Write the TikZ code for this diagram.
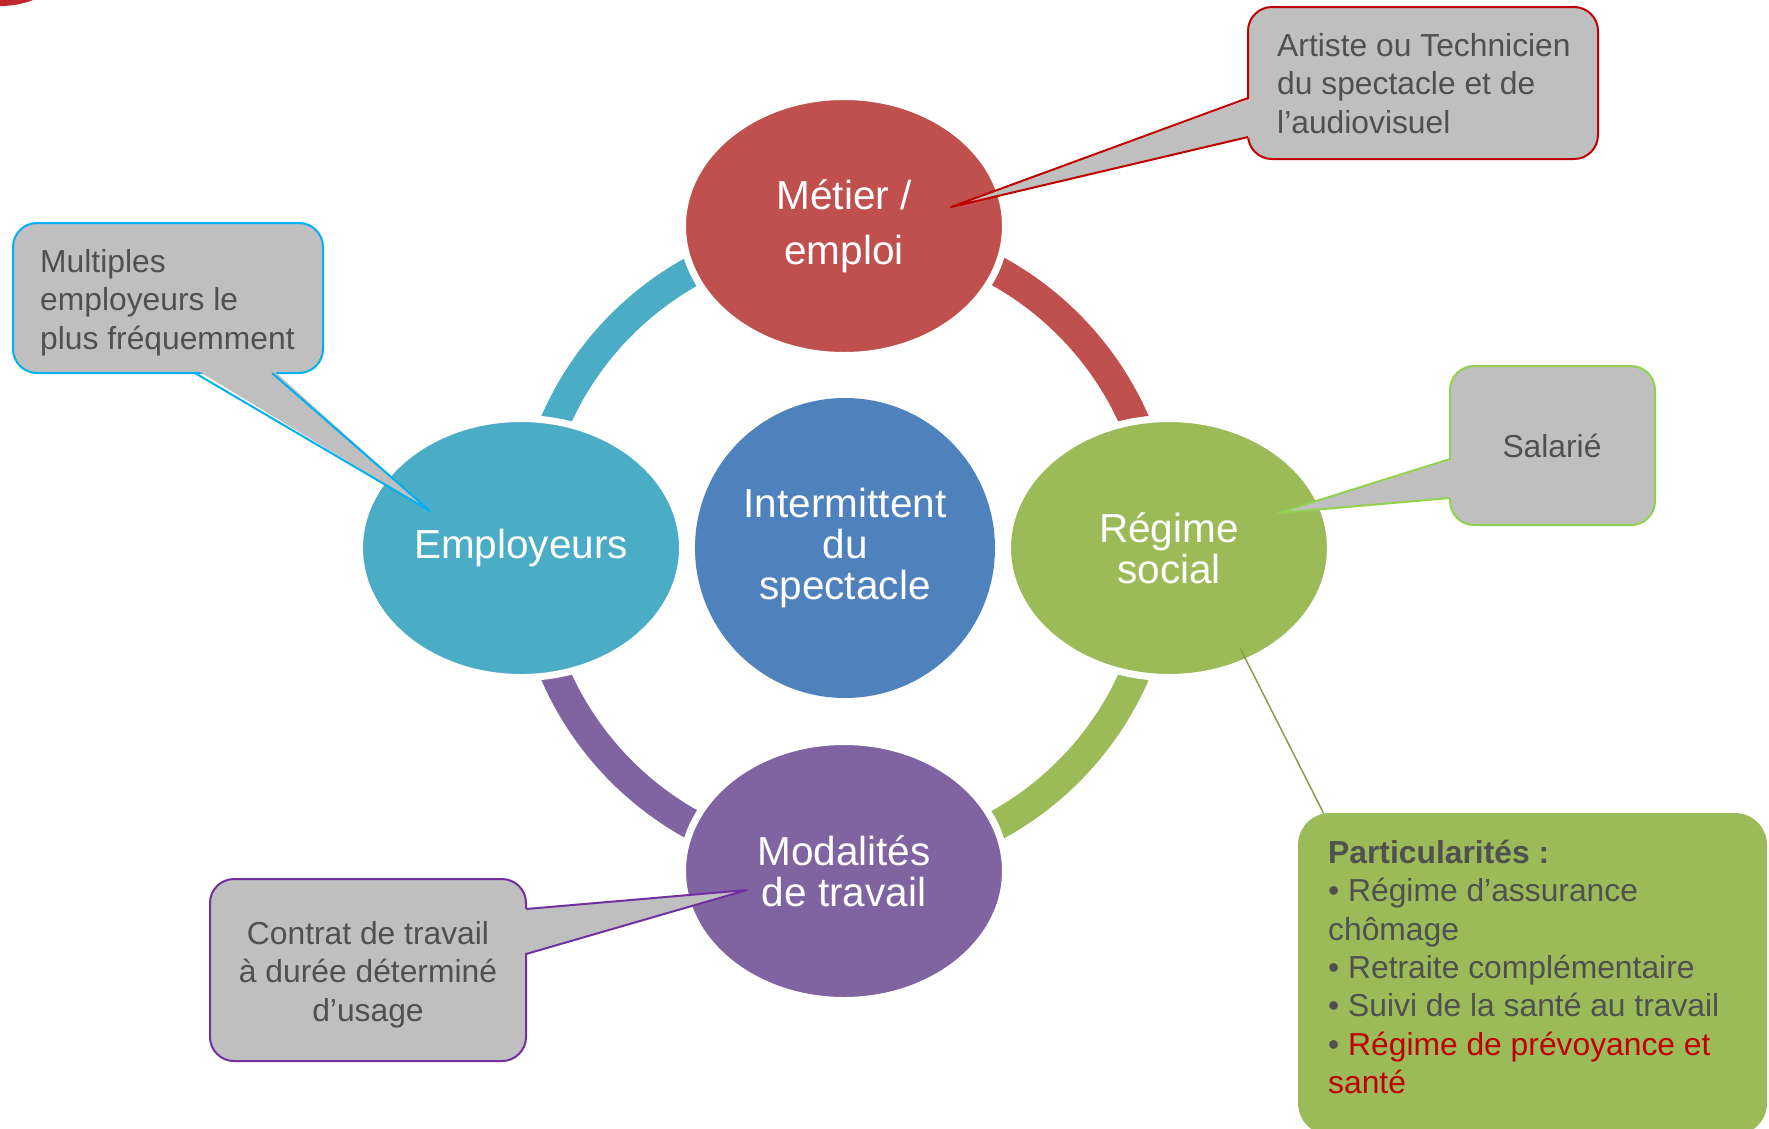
\documentclass[tikz,border=0pt]{standalone}
\usepackage{fontspec}
\setmainfont{Liberation Sans}
\usetikzlibrary{shapes.geometric}
\definecolor{cRed}{HTML}{C0504D}
\definecolor{cTeal}{HTML}{4BACC6}
\definecolor{cBlue}{HTML}{4F81BD}
\definecolor{cGreen}{HTML}{9BBB59}
\definecolor{cPurple}{HTML}{8064A2}
\definecolor{cGray}{HTML}{BFBFBF}
\definecolor{cText}{HTML}{505050}
\definecolor{bRed}{HTML}{C00000}
\definecolor{bCyan}{HTML}{00B0F0}
\definecolor{bLime}{HTML}{92D050}
\definecolor{bPurple}{HTML}{7030A0}
\definecolor{tRed}{HTML}{C00000}
\definecolor{corner}{HTML}{C0272D}
\begin{document}
\begin{tikzpicture}[x=1pt,y=-1pt,
  blob/.style={ellipse, minimum width=323pt, minimum height=259pt, inner sep=0pt,
    draw=white, line width=7pt, text=white, align=center, font=\fontsize{40.5}{41}\selectfont},
  ring/.style={line width=30pt},
  callout/.style={fill=cGray, line width=2pt, rounded corners=24pt},
  tipline/.style={line width=2pt, line join=round},
  ctext/.style={text=cText, inner sep=0pt, font=\fontsize{31.8}{38.5}\selectfont}
]
\useasboundingbox (0,0) rectangle (1769,1128);
\fill[corner] (0,-30) ellipse [x radius=60pt, y radius=36pt];

\coordinate (hub) at (845,548);
\draw[ring, cTeal]   (hub) ++(180:316pt) arc[start angle=180, end angle=90,   radius=316pt];
\draw[ring, cRed]    (hub) ++(90:316pt)  arc[start angle=90,  end angle=0,    radius=316pt];
\draw[ring, cGreen]  (hub) ++(0:316pt)   arc[start angle=0,   end angle=-90,  radius=316pt];
\draw[ring, cPurple] (hub) ++(-90:316pt) arc[start angle=-90, end angle=-180, radius=316pt];

\node[blob, fill=cRed, font=\fontsize{40.5}{55}\selectfont] (metier) at (844,226) {Métier /\\emploi};
\node[blob, fill=cTeal] (employeurs) at (521,548) {\raisebox{-3pt}{Employeurs}};
\node[blob, fill=cGreen] (regime) at (1169,548) {Régime\\social};
\node[blob, fill=cPurple] (modalites) at (844,871) {Modalités\\de travail};
\node[circle, minimum size=300pt, inner sep=0pt, fill=cBlue, text=white, align=center,
  font=\fontsize{40.5}{41}\selectfont] (centre) at (845,548) {Intermittent\\du\\spectacle};

% Artiste callout
\draw[callout, draw=bRed] (1248,7) rectangle (1598,159);
\coordinate (tipA) at (951,207);
\fill[cGray] (1252,98) -- (tipA) -- (1252,137) -- cycle;
\draw[tipline, bRed] (1248,98) -- (tipA) -- (1248,137);
\node[ctext, anchor=north west, align=left] (artiste) at (1277,33) {Artiste ou Technicien\\du spectacle et de\\l’audiovisuel};

% Multiples callout
\draw[callout, draw=bCyan] (13,223) rectangle (323,373);
\coordinate (tipM) at (430,511);
\fill[cGray] (195,369) -- (tipM) -- (272,369) -- cycle;
\draw[tipline, bCyan] (195,373) -- (tipM) -- (272,373);
\node[ctext, anchor=north west, align=left] (multiples) at (40,249) {Multiples\\employeurs le\\plus fréquemment};

% Salarie callout
\draw[callout, draw=bLime] (1450,366) rectangle (1655,525);
\coordinate (tipS) at (1278,513);
\fill[cGray] (1454,459) -- (tipS) -- (1454,498) -- cycle;
\draw[tipline, bLime] (1450,459) -- (tipS) -- (1450,498);
\node[ctext, anchor=base] (salarie) at (1552,457) {Salarié};

% Contrat callout
\draw[callout, draw=bPurple] (210,879) rectangle (526,1061);
\coordinate (tipC) at (747,890);
\fill[cGray] (522,909) -- (tipC) -- (522,954) -- cycle;
\draw[tipline, bPurple] (526,909) -- (tipC) -- (526,954);
\node[ctext, anchor=north, align=center] (contrat) at (368,921) {Contrat de travail\\à durée déterminé\\d’usage};

% Particularites
\coordinate (tipP) at (1240,648);
\draw[line width=1.5pt, cGreen!85!black] (tipP) -- (1326,818);
\fill[cGreen, rounded corners=32pt] (1298,813) rectangle (1767,1135);
\node[ctext, anchor=north west, align=left, font=\fontsize{31.8}{38.3}\selectfont] (partic) at (1328,840)
  {\textbf{Particularités :}\\• Régime d’assurance\\chômage\\• Retraite complémentaire\\• Suivi de la santé au travail\\• \textcolor{tRed}{Régime de prévoyance et}\\\textcolor{tRed}{santé}};
\end{tikzpicture}
\end{document}
